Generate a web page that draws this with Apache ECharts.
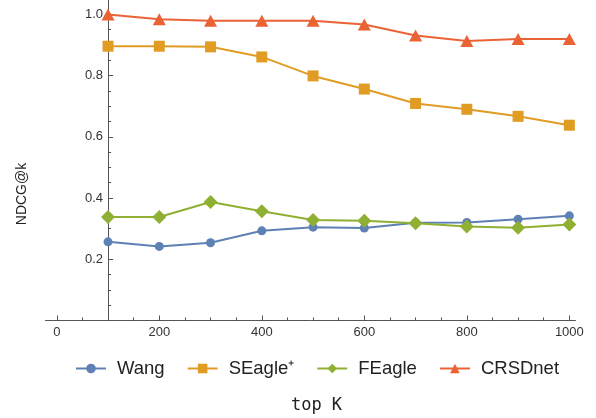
<!DOCTYPE html>
<html><head><meta charset="utf-8">
<script src="https://cdn.jsdelivr.net/npm/echarts@6/dist/echarts.min.js"></script>
<style>html,body{margin:0;padding:0;background:#fff}#c{width:596px;height:418px}</style>
</head><body><div id="c"></div>
<script>
var topK = [100, 200, 300, 400, 500, 600, 700, 800, 900, 1000];
var wang = [0.257, 0.242, 0.254, 0.293, 0.305, 0.302, 0.319, 0.320, 0.331, 0.342];
var seagle = [0.896, 0.896, 0.894, 0.861, 0.799, 0.756, 0.709, 0.690, 0.667, 0.638];
var feagle = [0.338, 0.338, 0.387, 0.357, 0.328, 0.326, 0.318, 0.307, 0.303, 0.314];
var crsd = [1.000, 0.984, 0.979, 0.979, 0.979, 0.967, 0.931, 0.913, 0.920, 0.920];
var xMajor = [0, 200, 400, 600, 800, 1000];
var xMinor = [50, 100, 150, 250, 300, 350, 450, 500, 550, 650, 700, 750, 850, 900, 950];
var yMajor = [0.2, 0.4, 0.6, 0.8, 1.0];
var yMinor = [0.05, 0.1, 0.15, 0.25, 0.3, 0.35, 0.45, 0.5, 0.55, 0.65, 0.7, 0.75, 0.85, 0.9, 0.95];
var names = ['Wang', 'SEagle\u207A', 'FEagle', 'CRSDnet'];
var colors = ['#5E81B5', '#E19C24', '#8FB032', '#EB6235'];

function pairs(v){ return topK.map(function(k,i){ return [k, v[i]]; }); }
var axisCol = '#555';
var labCol = '#333';
var font = 'Liberation Sans, Arial, sans-serif';
var chart = echarts.init(document.getElementById('c'));
var XMIN = -22, XMAX = 1012, YMIN = 0, YMAX = 1.047;
var yOff = -62.6;
chart.setOption({
  animation: false,
  grid: {left: 45.5, right: 20.5, top: 0, bottom: 97.5, containLabel: false, outerBoundsMode: 'none'},
  legend: {
    data: names, top: 354, left: 70, itemWidth: 30, itemHeight: 12, itemGap: 22,
    textStyle: {fontSize: 18.5, color: '#222', fontFamily: font, padding: [0,0,0,6]}
  },
  graphic: [{
    type: 'text', x: 22, y: 194, rotation: Math.PI / 2,
    style: {text: 'NDCG@k', fontFamily: font, fontSize: 14, fill: '#222', align: 'center', verticalAlign: 'middle'}
  }],
  xAxis: [{
    type: 'value', min: XMIN, max: XMAX, name: 'top K', nameLocation: 'middle', nameGap: 77,
    nameTextStyle: {fontFamily: 'DejaVu Sans Mono, monospace', fontSize: 17, color: '#222', padding: [0,0,0,12]},
    axisLine: {show: true, onZero: false, lineStyle: {color: axisCol, width: 1}},
    axisTick: {show: true, inside: true, length: 5, customValues: xMajor, lineStyle: {color: axisCol}},
    axisLabel: {customValues: xMajor, color: labCol, fontSize: 13, fontFamily: font, margin: 5,
      formatter: function(v){ return String(Math.round(v)); }},
    splitLine: {show: false}
  }, {
    type: 'value', min: XMIN, max: XMAX, position: 'bottom',
    axisLine: {show: false},
    axisTick: {show: true, inside: true, length: 3, customValues: xMinor, lineStyle: {color: axisCol}},
    axisLabel: {show: false}, splitLine: {show: false}
  }],
  yAxis: [{
    type: 'value', min: YMIN, max: YMAX, position: 'left', offset: yOff,
    axisLine: {show: true, onZero: false, lineStyle: {color: axisCol, width: 1}},
    axisTick: {show: true, inside: true, length: 5, customValues: yMajor, lineStyle: {color: axisCol}},
    axisLabel: {customValues: yMajor, color: labCol, fontSize: 13, fontFamily: font, margin: 5,
      formatter: function(v){ return v.toFixed(1); }},
    splitLine: {show: false}
  }, {
    type: 'value', min: YMIN, max: YMAX, position: 'left', offset: yOff,
    axisLine: {show: false},
    axisTick: {show: true, inside: true, length: 3, customValues: yMinor, lineStyle: {color: axisCol}},
    axisLabel: {show: false}, splitLine: {show: false}
  }],
  series: [
    {name: names[0], type: 'line', data: pairs(wang), symbol: 'circle', symbolSize: 9, color: colors[0], lineStyle: {width: 2}, clip: false},
    {name: names[1], type: 'line', data: pairs(seagle), symbol: 'rect', symbolSize: 11, color: colors[1], lineStyle: {width: 2}, clip: false},
    {name: names[2], type: 'line', data: pairs(feagle), symbol: 'diamond', symbolSize: [14, 14], color: colors[2], lineStyle: {width: 2}, clip: false},
    {name: names[3], type: 'line', data: pairs(crsd), symbol: 'triangle', symbolSize: [13, 12], color: colors[3], lineStyle: {width: 2}, clip: false}
  ]
});
</script></body></html>
